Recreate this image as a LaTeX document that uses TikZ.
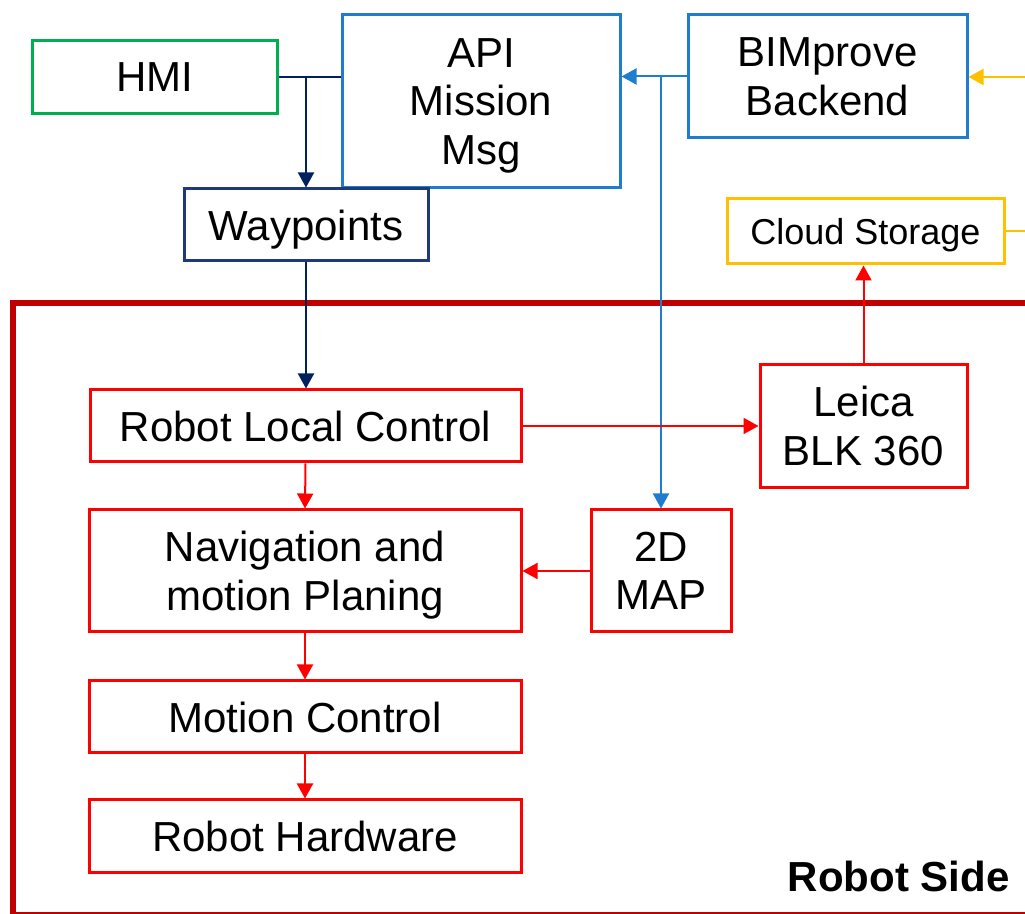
\documentclass[tikz,border=0pt]{standalone}
\usepackage{fontspec}
\setmainfont{Liberation Sans}
\usepackage{xcolor}
\usetikzlibrary{arrows.meta}

\definecolor{hmigreen}{HTML}{00B050}
\definecolor{apiblue}{HTML}{1F7DD0}
\definecolor{wpnavy}{HTML}{1F3A7A}
\definecolor{linenavy}{HTML}{002060}
\definecolor{cloudyellow}{HTML}{FFC000}
\definecolor{robotred}{HTML}{FF0000}
\definecolor{framered}{HTML}{C00000}

\begin{document}
\begin{tikzpicture}[
    x=0.5pt, y=-0.5pt,
    font=\fontsize{21pt}{24.25pt}\selectfont,
    box/.style={
        rectangle,
        draw,
        line width=1.5pt,
        align=center,
        inner sep=0pt,
        text depth=0pt,
        fill=white
    },
    arrow/.style={
        -{Triangle[length=7.5pt,width=8pt]},
        line width=1pt
    },
    link/.style={
        line width=1pt
    },
    frame/.style={
        draw=framered,
        line width=3pt
    }
]
\clip (0,0) rectangle (1025,914);

% =========================================================
% Robot side frame
% =========================================================
\draw[frame] (12.5,303) rectangle (1040,915);

\node[font=\fontsize{21pt}{24.25pt}\selectfont\bfseries, anchor=base east, inner sep=0pt] (side) at (1010,892)
{Robot Side};

% =========================================================
% Upper blocks
% =========================================================
\node[box, draw=hmigreen, minimum width=122.5pt, minimum height=36.5pt] (hmi) at (155,77)
{HMI};

\node[box, draw=apiblue, minimum width=139pt, minimum height=86.5pt] (api) at (481,101.5)
{API\\Mission\\Msg};

\node[box, draw=apiblue, minimum width=139.5pt, minimum height=61.5pt] (bim) at (827.5,76.5)
{BIMprove\\Backend};

\node[box, draw=wpnavy, minimum width=122pt, minimum height=36pt] (wp) at (306,225)
{Waypoints};

\node[box, draw=cloudyellow, minimum width=138.5pt, minimum height=32.5pt,
      font=\fontsize{18pt}{21pt}\selectfont] (cloud) at (865.5,231.5)
{Cloud Storage};

\coordinate (yin) at (1025,77);
\coordinate (yout) at (1025,232);

% =========================================================
% Robot blocks
% =========================================================
\node[box, draw=robotred, minimum width=215.5pt, minimum height=36pt] (rlc) at (305.5,426)
{Robot Local Control};

\node[box, draw=robotred, minimum width=103.5pt, minimum height=61.5pt] (leica) at (863.5,426)
{Leica\\BLK 360};

\node[box, draw=robotred, minimum width=216pt, minimum height=61pt] (nav) at (305,571)
{Navigation and\\motion Planing};

\node[box, draw=robotred, minimum width=70pt, minimum height=61pt] (map) at (661,571)
{2D\\MAP};

\node[box, draw=robotred, minimum width=216pt, minimum height=36pt] (mc) at (305,717)
{Motion Control};

\node[box, draw=robotred, minimum width=216pt, minimum height=36.5pt] (hw) at (305,836.5)
{Robot Hardware};

% =========================================================
% Mission arrows
% =========================================================
\draw[link, draw=linenavy] (hmi.east) -- (api.west |- hmi.east);
\draw[arrow, draw=linenavy, fill=linenavy] (hmi.east -| wp.north) -- (wp.north);
\draw[arrow, draw=linenavy, fill=linenavy] (wp.south) -- (wp.south |- rlc.north);

\draw[arrow, draw=apiblue, fill=apiblue] (bim.west) -- (api.east |- bim.west);
\draw[arrow, draw=apiblue, fill=apiblue] (bim.west -| map.north) -- (map.north);

\draw[arrow, draw=cloudyellow, fill=cloudyellow] (yin) -- (bim.east |- yin);
\draw[link, draw=cloudyellow] (cloud.east) -- (cloud.east -| yout);

% =========================================================
% Robot arrows
% =========================================================
\draw[arrow, draw=robotred, fill=robotred] (rlc.south) -- (nav.north);
\draw[arrow, draw=robotred, fill=robotred] (nav.south) -- (mc.north);
\draw[arrow, draw=robotred, fill=robotred] (mc.south) -- (hw.north);
\draw[arrow, draw=robotred, fill=robotred] (rlc.east) -- (leica.west);
\draw[arrow, draw=robotred, fill=robotred] (map.west) -- (nav.east);
\draw[arrow, draw=robotred, fill=robotred] (leica.north) -- (leica.north |- cloud.south);

\end{tikzpicture}
\end{document}
